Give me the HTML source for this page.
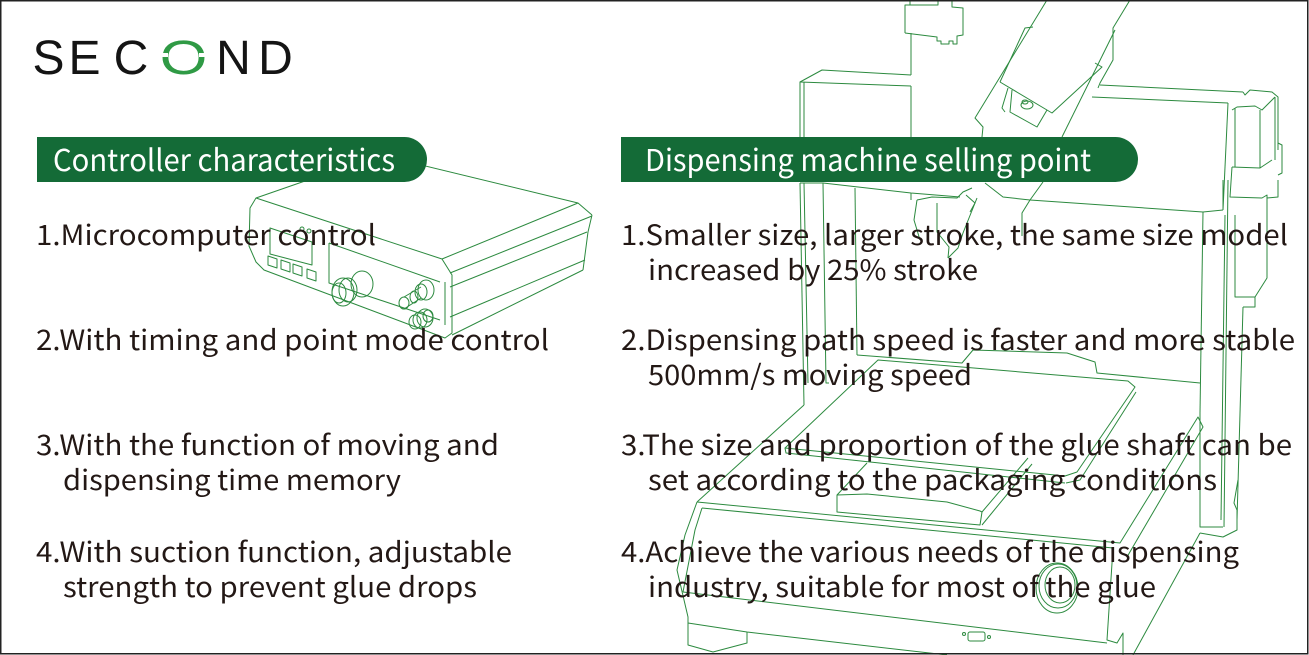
<!DOCTYPE html>
<html>
<head>
<meta charset="utf-8">
<style>
html,body{margin:0;padding:0;background:#fff;}
body{width:1309px;height:655px;overflow:hidden;}
svg{display:block;}
.t{font-family:"Noto Sans CJK SC","Liberation Sans",sans-serif;font-size:28px;fill:#231815;}
.h{font-family:"Noto Sans CJK SC","Liberation Sans",sans-serif;font-size:30px;fill:#ffffff;}
.logo{font-family:"Liberation Sans",sans-serif;font-size:48px;fill:#141414;}
</style>
</head>
<body>
<svg width="1309" height="655" viewBox="0 0 1309 655" xmlns="http://www.w3.org/2000/svg">
<rect x="0" y="0" width="1309" height="655" fill="#fff"/>

<!-- ================= Controller drawing ================= -->
<g fill="none" stroke="#2c8a3f" stroke-width="1" stroke-linejoin="round">
  <!-- front face -->
  <path d="M256,198 L250,208 L249,246 L256,262 L264,270 L445,338 L452,333 L452,275 L442,259 Z"/>
  <path d="M445,282 L445,325"/>
  <!-- top face -->
  <path d="M256,198 L380,155"/>
  <path d="M380,155 L578,203 L592,215"/>
  <path d="M442,259 L578,203"/>
  <!-- side face -->
  <path d="M450,273 L592,216"/>
  <path d="M450,287 L587,232"/>
  <path d="M450,317 L585,260"/>
  <path d="M452,335 L583,270"/>
  <path d="M592,215 L588,232 L583,270"/>
  <!-- inner panel -->
  <path d="M329,243 L329,283 L440,320"/>
  <path d="M329,243 L440,282"/>
  <!-- display -->
  <path d="M270,228 L312,242 L312,265 L270,254 Z"/>
  <circle cx="302" cy="229" r="2"/>
  <circle cx="309" cy="231" r="2"/>
  <!-- buttons -->
  <path d="M268,256 L277,259 L277,268 L268,265 Z"/>
  <path d="M281,260 L290,263 L290,272 L281,269 Z"/>
  <path d="M293,264 L302,267 L302,276 L293,273 Z"/>
  <path d="M307,269 L316,272 L316,281 L307,278 Z"/>
  <!-- knob -->
  <ellipse cx="343" cy="292" rx="11" ry="14"/>
  <ellipse cx="348" cy="290" rx="9" ry="12"/>
  <ellipse cx="362" cy="284" rx="11" ry="13"/>
  <ellipse cx="339" cy="293" rx="7" ry="10"/>
  <!-- connector 1 -->
  <ellipse cx="404" cy="303" rx="5" ry="6"/>
  <path d="M404,297 L421,287 M404,309 L421,298"/>
  <ellipse cx="414" cy="297" rx="4" ry="6"/>
  <ellipse cx="421" cy="292" rx="6" ry="8"/>
  <ellipse cx="426" cy="290" rx="8" ry="10"/>
  <!-- connector 2 -->
  <ellipse cx="415" cy="322" rx="6" ry="7"/>
  <ellipse cx="420" cy="320" rx="7" ry="8"/>
  <ellipse cx="425" cy="318" rx="8" ry="9"/>
  <ellipse cx="428" cy="316" rx="5" ry="6"/>
</g>

<!-- ================= Dispensing machine drawing ================= -->
<g fill="none" stroke="#2c8a3f" stroke-width="1" stroke-linejoin="round">
  <!-- top head -->
  <path d="M905,33 L905,5 L938,5 L938,0"/>
  <path d="M910,5 L910,0"/>
  <path d="M952,0 L952,7 L963,8 L963,35 L957,36 L957,44 L953,44 L953,41 L949,41 L949,44 L941,44 L941,41 L937,41 L937,37 L905,33"/>
  <path d="M911,33 L911,75"/>
  <!-- left upright above pill -->
  <path d="M800,137 L800,82 L822,70 L911,75"/>
  <path d="M804,137 L804,82"/>
  <path d="M800,82 L911,86"/>
  <path d="M911,86 L911,137"/>
  <!-- left upright below pill -->
  <path d="M800,183 L823,183 L911,193 L960,197"/>
  <path d="M800,183 L804,405"/>
  <path d="M804,183 L808,383"/>
  <path d="M823,183 L826,383 L829,383"/>
  <path d="M855,188 L857,355"/>
  <path d="M911,193 L911,200"/>
  <!-- arm -->
  <path d="M1047,0 L975,118 L983,127 L982,137"/>
  <path d="M1033,27 L1025,28 L1000,82"/>
  <path d="M1130,0 L1113,28 L1113,60 L1100,83 L1098,88"/>
  <path d="M1115,30 L1062,137"/>
  <path d="M1095,63 L1102,67 L1052,113 L1000,82"/>
  <path d="M1008,88 L1002,108 L1005,112"/>
  <path d="M1012,90 L1010,112 L1037,127 L1047,110"/>
  <ellipse cx="1027" cy="105" rx="6" ry="4"/>
  <ellipse cx="1025" cy="102" rx="3" ry="2"/>
  <!-- arm below pill / nozzle -->
  <path d="M1043,182 L1030,200 L1022,213 L1022,236"/>
  <path d="M985,183 L1003,197 L1030,200"/>
  <path d="M917,200 L932,197 L957,198 L963,192 L972,188"/>
  <path d="M917,200 L914,220 L920,240"/>
  <path d="M937,203 L937,232 L949,247 L948,258"/>
  <path d="M977,198 L963,233 L958,248 L948,258"/>
  <path d="M966,195 L975,203 L970,212"/>
  <!-- cross beam -->
  <path d="M1100,85 L1243,92"/>
  <path d="M1092,97 L1228,103"/>
  <path d="M1228,103 L1223,210"/>
  <path d="M1030,200 L1203,212 L1223,210"/>
  <path d="M1203,212 L1200,413"/>
  <!-- right housing -->
  <path d="M1243,92 L1245,95 L1250,90 L1272,92 L1278,97 L1278,150"/>
  <path d="M1232,110 L1237,107 L1255,106 L1262,110 L1275,97"/>
  <path d="M1235,108 L1235,167"/>
  <path d="M1260,110 L1260,168"/>
  <path d="M1275,97 L1275,160"/>
  <path d="M1232,167 L1260,168 L1272,160"/>
  <path d="M1232,167 L1230,197 L1262,198 L1267,195 L1267,278 L1255,297 L1235,297 L1235,215"/>
  <path d="M1278,180 L1278,197 L1267,198"/>
  <path d="M1278,143 L1282,145 L1282,173 L1278,175"/>
  <path d="M1223,180 L1223,210"/>
  <!-- right column -->
  <path d="M1228,180 L1224,527"/>
  <path d="M1225,215 L1221,520"/>
  <path d="M1243,307 L1237,520"/>
  <path d="M1243,307 L1255,307 L1255,297"/>
  <path d="M1200,413 L1200,527 L1223,527"/>
  <path d="M1200,533 L1223,537 L1237,530 L1237,510 L1234,503 L1238,480"/>
  <!-- base back edge -->
  <path d="M857,355 L962,363 L973,350 L1067,353 L1095,362 L1097,373 L1200,383"/>
  <!-- platform -->
  <path d="M878,360 L1128,381 L1135,387 L1077,472 L1065,476 L785,448 Z"/>
  <path d="M1136,392 L1080,480 L1066,483"/>
  <path d="M785,448 L786,453 L1065,483"/>
  <!-- tray -->
  <path d="M867,463 L837,495 L837,512 L980,525 L982,512 L1028,458"/>
  <path d="M837,495 L867,494 L947,502 L980,511 L982,512"/>
  <path d="M982,525 L1032,464"/>
  <!-- base -->
  <path d="M804,405 L697,502"/>
  <path d="M697,502 L1120,543 L1198,417 L1203,427 L1127,557"/>
  <path d="M702,508 L1113,548"/>
  <path d="M697,502 L685,535 L677,570 L688,617 L688,645 L713,652 L747,643 L747,632"/>
  <path d="M702,508 L695,530 L683,592"/>
  <path d="M683,592 L1107,643"/>
  <path d="M688,623 L747,632 L947,655"/>
  <path d="M1113,548 L1107,640 L1117,643 L1123,633 L1123,655"/>
  <path d="M1200,533 L1133,655"/>
  <ellipse cx="1057" cy="588" rx="21" ry="25"/>
  <ellipse cx="1058" cy="586" rx="19" ry="22"/>
  <ellipse cx="1060" cy="585" rx="15" ry="18"/>
  <rect x="968" y="632" width="17" height="9" rx="2"/>
  <circle cx="964" cy="634" r="1.5"/>
  <circle cx="989" cy="637" r="1.5"/>
</g>

<!-- ================= Logo ================= -->
<g>
  <text class="logo" x="48.5" y="74" text-anchor="middle">S</text>
  <text class="logo" x="84.5" y="74" text-anchor="middle">E</text>
  <text class="logo" x="131" y="74" text-anchor="middle">C</text>
  <text class="logo" x="0" y="74" text-anchor="middle" transform="translate(183.5,0) scale(1.28,1)" style="fill:#2f9a45">O</text>
  <rect x="158" y="53" width="10" height="4" fill="#fff"/>
  <rect x="199" y="53" width="10" height="4" fill="#fff"/>
  <text class="logo" x="233.5" y="74" text-anchor="middle">N</text>
  <text class="logo" x="275.5" y="74" text-anchor="middle">D</text>
</g>

<!-- ================= Header pills ================= -->
<path d="M37,137 H404.5 A22.5,22.5 0 0 1 404.5,182 H37 Z" fill="#146b37"/>
<text class="h" x="53" y="171" textLength="342" lengthAdjust="spacingAndGlyphs">Controller characteristics</text>

<path d="M621,137 H1115.5 A22.5,22.5 0 0 1 1115.5,182 H621 Z" fill="#146b37"/>
<text class="h" x="645" y="171" textLength="446" lengthAdjust="spacingAndGlyphs">Dispensing machine selling point</text>

<!-- ================= Left column text ================= -->
<text class="t" x="36" y="245" textLength="340" lengthAdjust="spacingAndGlyphs">1.Microcomputer control</text>
<text class="t" x="36" y="350" textLength="513" lengthAdjust="spacingAndGlyphs">2.With timing and point mode control</text>
<text class="t" x="36" y="455" textLength="463" lengthAdjust="spacingAndGlyphs">3.With the function of moving and</text>
<text class="t" x="63" y="490" textLength="338" lengthAdjust="spacingAndGlyphs">dispensing time memory</text>
<text class="t" x="36" y="562" textLength="476" lengthAdjust="spacingAndGlyphs">4.With suction function, adjustable</text>
<text class="t" x="63" y="597" textLength="414" lengthAdjust="spacingAndGlyphs">strength to prevent glue drops</text>

<!-- ================= Right column text ================= -->
<text class="t" x="621" y="245" textLength="667" lengthAdjust="spacingAndGlyphs">1.Smaller size, larger stroke, the same size model</text>
<text class="t" x="648" y="280" textLength="330" lengthAdjust="spacingAndGlyphs">increased by 25% stroke</text>
<text class="t" x="621" y="350" textLength="674" lengthAdjust="spacingAndGlyphs">2.Dispensing path speed is faster and more stable</text>
<text class="t" x="648" y="385" textLength="324" lengthAdjust="spacingAndGlyphs">500mm/s moving speed</text>
<text class="t" x="621" y="455" textLength="671" lengthAdjust="spacingAndGlyphs">3.The size and proportion of the glue shaft can be</text>
<text class="t" x="648" y="490" textLength="569" lengthAdjust="spacingAndGlyphs">set according to the packaging conditions</text>
<text class="t" x="621" y="562" textLength="618" lengthAdjust="spacingAndGlyphs">4.Achieve the various needs of the dispensing</text>
<text class="t" x="648" y="597" textLength="508" lengthAdjust="spacingAndGlyphs">industry, suitable for most of the glue</text>

<!-- border -->
<rect x="0.75" y="0.75" width="1307" height="653" fill="none" stroke="#222" stroke-width="1.5"/>
</svg>
</body>
</html>
